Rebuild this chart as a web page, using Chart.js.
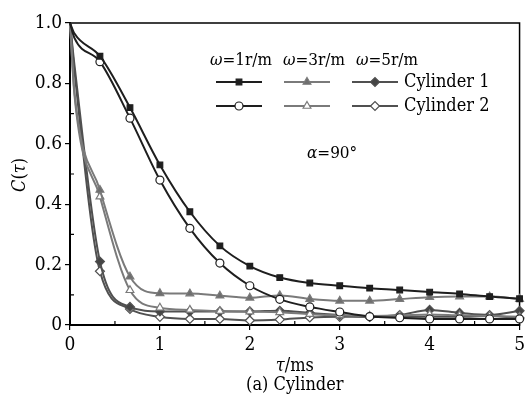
<!DOCTYPE html>
<html>
<head>
<meta charset="utf-8">
<script src="https://cdn.jsdelivr.net/npm/chart.js@4/dist/chart.umd.min.js"></script>
<style>
  html, body { margin: 0; padding: 0; background: #fff; }
  #wrap { width: 529px; height: 401px; }
</style>
</head>
<body>
<div id="wrap"><canvas id="chart" width="529" height="401"></canvas></div>
<script>
// tau, ms (points every 1/3 ms, plus the first step near 0)
const taus = [0, 0.05, 0.333, 0.667, 1, 1.333, 1.667, 2, 2.333, 2.667, 3, 3.333, 3.667, 4, 4.333, 4.667, 5];

// C(tau)
const w1Cyl1 = [1, 0.965, 0.89, 0.72, 0.53, 0.375, 0.262, 0.195, 0.157, 0.139, 0.13, 0.122, 0.116, 0.109, 0.103, 0.094, 0.087];
const w1Cyl2 = [1, 0.95, 0.872, 0.685, 0.48, 0.32, 0.205, 0.13, 0.085, 0.06, 0.043, 0.028, 0.024, 0.02, 0.02, 0.02, 0.02];
const w3Cyl1 = [1, 0.77, 0.447, 0.16, 0.105, 0.104, 0.097, 0.09, 0.098, 0.086, 0.08, 0.08, 0.086, 0.092, 0.094, 0.094, 0.086];
const w3Cyl2 = [1, 0.76, 0.425, 0.115, 0.057, 0.05, 0.046, 0.044, 0.042, 0.036, 0.032, 0.03, 0.032, 0.035, 0.032, 0.03, 0.027];
const w5Cyl1 = [1, 0.86, 0.21, 0.06, 0.045, 0.045, 0.045, 0.045, 0.047, 0.04, 0.033, 0.027, 0.033, 0.05, 0.04, 0.033, 0.047];
const w5Cyl2 = [1, 0.84, 0.178, 0.053, 0.027, 0.02, 0.02, 0.015, 0.018, 0.025, 0.027, 0.027, 0.027, 0.027, 0.027, 0.03, 0.023];

const legendHeads = ['1r/m', '3r/m', '5r/m'];
const legendRows = ['Cylinder 1', 'Cylinder 2'];

const SERIF = '"DejaVu Serif Condensed", "DejaVu Serif", serif';

function pts(ys) {
    return taus.map((t, i) => ({ x: t, y: ys[i] }));
}

// style of each series (same order as the legend grid)
const series = [
    { data: w1Cyl1, color: '#1e1e1e', fill: '#1e1e1e', style: 'rect', r: 4, width: 2, col: 0, row: 0 },
    { data: w1Cyl2, color: '#1e1e1e', fill: '#ffffff', style: 'circle', r: 4, width: 2, col: 0, row: 1 },
    { data: w3Cyl1, color: '#7a7a7a', fill: '#6e6e6e', style: 'triangle', r: 4.5, width: 2, col: 1, row: 0 },
    { data: w3Cyl2, color: '#7a7a7a', fill: '#ffffff', style: 'triangle', r: 4.5, width: 2, col: 1, row: 1 },
    { data: w5Cyl1, color: '#505050', fill: '#454545', style: 'rectRot', r: 4.5, width: 2, col: 2, row: 0 },
    { data: w5Cyl2, color: '#505050', fill: '#ffffff', style: 'rectRot', r: 4.5, width: 2, col: 2, row: 1 }
];

const datasets = series.map(s => ({
    data: pts(s.data),
    borderColor: s.color,
    borderWidth: s.width,
    backgroundColor: s.fill,
    pointStyle: s.style,
    pointBackgroundColor: s.fill,
    pointBorderColor: s.color,
    pointBorderWidth: 1.2,
    pointRadius: ctx => (ctx.dataIndex < 2 ? 0 : s.r),
    cubicInterpolationMode: 'monotone',
    clip: false
}));

// text drawn from parts so the greek letters can be italic
function partsText(ctx, parts, x, y, size) {
    parts.forEach(([t, it]) => {
        ctx.font = (it ? 'italic ' : '') + size + 'px ' + SERIF;
        ctx.fillText(t, x, y);
        x += ctx.measureText(t).width;
    });
    return x;
}

// frame, minor ticks, legend and texts
const decor = {
    id: 'decor',
    beforeDatasetsDraw(chart) {
        const { ctx, chartArea: a, scales } = chart;
        ctx.save();
        ctx.strokeStyle = '#000';
        ctx.lineWidth = 1.5;
        ctx.strokeRect(a.left, a.top, a.right - a.left, a.bottom - a.top);
        ctx.lineWidth = 1.2;
        ctx.beginPath();
        for (let v = 0.5; v < 5; v += 1) {
            const x = scales.x.getPixelForValue(v);
            ctx.moveTo(x, a.bottom); ctx.lineTo(x, a.bottom - 4);
        }
        for (let v = 0.1; v < 1; v += 0.2) {
            const y = scales.y.getPixelForValue(v);
            ctx.moveTo(a.left, y); ctx.lineTo(a.left + 4, y);
        }
        ctx.stroke();
        ctx.restore();
    },
    afterDraw(chart) {
        const { ctx, chartArea: a } = chart;
        ctx.save();
        ctx.fillStyle = '#000';
        ctx.textBaseline = 'middle';

        // legend header
        const headX = [210, 283, 356];
        legendHeads.forEach((h, i) => partsText(ctx, [['\u03c9', true], ['=' + h, false]], headX[i], 61, 17));

        // legend samples
        const segX = [216, 284, 352];
        const rowY = [82, 106];
        series.forEach(s => {
            const x0 = segX[s.col], y = rowY[s.row];
            ctx.strokeStyle = s.color;
            ctx.lineWidth = s.width;
            ctx.beginPath();
            ctx.moveTo(x0, y); ctx.lineTo(x0 + 46, y);
            ctx.stroke();
            ctx.fillStyle = s.fill;
            ctx.lineWidth = 1.2;
            Chart.helpers.drawPoint(ctx, { pointStyle: s.style, radius: s.r, rotation: 0, borderWidth: 1.2 }, x0 + 23, y);
        });
        ctx.fillStyle = '#000';
        ctx.font = '18px ' + SERIF;
        legendRows.forEach((t, i) => ctx.fillText(t, 404, rowY[i]));

        // alpha note
        partsText(ctx, [['\u03b1', true], ['=90\u00b0', false]], 307, 154, 17);

        // x title
        ctx.font = 'italic 18px ' + SERIF;
        const tw = ctx.measureText('\u03c4').width;
        ctx.font = '18px ' + SERIF;
        const mw = ctx.measureText('/ms').width;
        partsText(ctx, [['\u03c4', true], ['/ms', false]], (a.left + a.right) / 2 - (tw + mw) / 2, 366, 18);

        ctx.textAlign = 'center';
        ctx.font = '18px ' + SERIF;
        ctx.fillText('(a) Cylinder', (a.left + a.right) / 2, 385);

        // y title
        ctx.textAlign = 'left';
        ctx.translate(20, 175);
        ctx.rotate(-Math.PI / 2);
        ctx.font = 'italic 18px ' + SERIF;
        const cw = ctx.measureText('C(\u03c4)').width;
        partsText(ctx, [['C', true], ['(', false], ['\u03c4', true], [')', false]], -cw / 2, 0, 18);
        ctx.restore();
    }
};

new Chart(document.getElementById('chart'), {
    type: 'line',
    data: { datasets },
    options: {
        responsive: false,
        animation: false,
        layout: { padding: { left: 0, right: 5, top: 23, bottom: 0 } },
        plugins: { legend: { display: false }, tooltip: { enabled: false } },
        scales: {
            x: {
                type: 'linear',
                min: 0, max: 5,
                afterFit: s => { s.height = 76; },
                border: { color: '#000', width: 2 },
                grid: { drawOnChartArea: false, color: '#000', tickLength: 5, lineWidth: 1.2 },
                ticks: { stepSize: 1, color: '#000', padding: 4, font: { family: SERIF, size: 19 } }
            },
            y: {
                min: 0, max: 1,
                afterFit: s => { s.width = 70; },
                border: { color: '#000', width: 2 },
                grid: { drawOnChartArea: false, color: '#000', tickLength: 5, lineWidth: 1.2 },
                ticks: {
                    stepSize: 0.2, color: '#000', padding: 3,
                    font: { family: SERIF, size: 19 },
                    callback: v => (v === 0 ? '0' : v.toFixed(1))
                }
            }
        }
    },
    plugins: [decor]
});
</script>
</body>
</html>
